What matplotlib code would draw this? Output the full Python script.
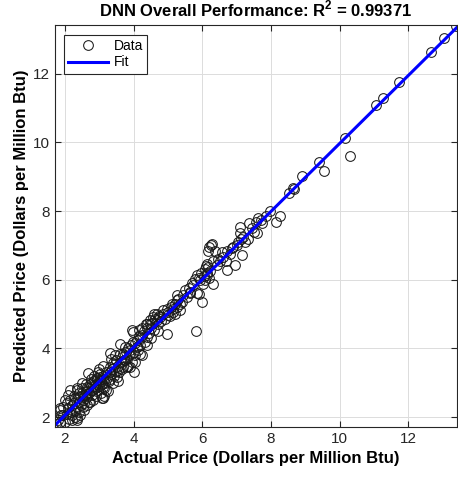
import numpy as np
import matplotlib
matplotlib.use("Agg")
import matplotlib.pyplot as plt

plt.rcParams['font.family'] = ['Liberation Sans', 'DejaVu Sans']
plt.rcParams['mathtext.fontset'] = 'custom'
plt.rcParams['mathtext.rm'] = 'Liberation Sans'
plt.rcParams['mathtext.bf'] = 'Liberation Sans:bold'

# actual vs predicted price
actual = [
    13.40, 13.03, 12.67, 11.74, 11.25, 11.07, 10.17, 10.29, 9.41, 9.53,
    8.89, 8.68, 8.53, 8.63, 7.98, 8.25, 8.15, 7.63, 7.57, 7.73,
    7.59, 7.37, 7.10, 7.10, 7.13, 7.34, 7.05, 7.15, 6.86, 6.73,
    6.96, 6.73, 6.57, 6.52, 6.42, 6.28, 6.18, 6.37, 6.13, 6.18,
    6.08, 6.23, 6.13, 6.08, 6.32, 5.84, 5.79, 5.94, 5.74, 6.03,
    5.84, 6.00, 5.50, 5.64, 5.26, 5.26, 5.35, 5.11, 5.16, 4.96,
    5.21, 5.35, 4.87, 4.67, 4.57, 4.48, 4.38, 4.77, 5.01, 3.94,
    4.24, 5.82, 4.96, 5.89, 6.25, 6.20,
    1.75, 1.80, 1.85, 1.95, 2.34, 1.85, 2.00, 2.15, 2.34, 2.39,
    2.53, 2.73, 2.63, 2.68, 2.83, 2.92, 3.02, 3.12, 3.07, 2.83,
    3.31, 3.10, 3.41, 3.51, 3.60, 3.55, 3.75, 3.80, 3.90, 4.04,
    4.02, 4.09, 3.90, 3.60, 3.99, 4.19, 4.38, 4.48, 4.67, 4.38,
    4.24, 3.31, 3.02, 2.34, 1.85,
    2.05, 2.10, 2.12, 2.18, 2.20, 2.22, 2.25, 2.28, 2.30, 2.35,
    2.40, 2.42, 2.45, 2.48, 2.50, 2.52, 2.55, 2.58, 2.60, 2.62,
    2.65, 2.68, 2.70, 2.72, 2.75, 2.78, 2.80, 2.82, 2.85, 2.88,
    2.90, 2.92, 2.95, 2.97, 3.00, 3.02, 3.05, 3.08, 3.10, 3.12,
    3.15, 3.18, 3.20, 3.22, 3.25, 3.28, 3.30, 3.35, 3.38, 3.42,
    3.45, 3.48, 3.50, 3.55, 3.58, 3.62, 3.65, 3.68, 3.70, 3.72,
    3.78, 3.82, 3.85, 3.88, 3.92, 3.95, 3.98, 4.00, 4.05, 4.10,
    4.12, 4.15, 4.20, 4.25, 4.30, 4.32, 4.40, 4.45, 4.50, 4.55,
    4.60, 4.62, 4.70, 4.75, 4.80, 4.85, 4.90, 5.00, 5.05, 5.10,
    5.15, 5.20, 5.25, 5.30, 5.40, 5.45, 5.55, 5.60, 5.65, 5.70,
    5.90, 5.95, 6.05, 6.15, 6.10, 6.20, 6.30, 6.45, 6.60, 6.70,
    6.80, 6.90, 7.00, 7.20, 7.25, 7.45, 7.50, 7.70, 7.85,
    2.30, 2.45, 2.55, 2.65, 2.60, 2.75, 2.85, 2.95, 3.05, 3.15,
    2.90, 2.70, 2.50, 2.40, 2.25, 2.20, 2.00, 1.90, 1.95, 2.05,
    2.10, 2.15, 2.35, 2.50, 3.00, 3.10, 3.20, 3.30, 3.40, 3.45,
    3.35, 3.55, 3.65, 3.75, 3.85, 4.05, 4.15, 4.20, 4.35, 4.50,
    4.60, 4.70,
]
predicted = [
    13.40, 13.04, 12.65, 11.75, 11.29, 11.10, 10.12, 9.61, 9.44, 9.18,
    9.02, 8.65, 8.53, 8.67, 8.00, 7.85, 7.68, 7.80, 7.68, 7.65,
    7.36, 7.65, 7.55, 7.36, 7.19, 7.19, 7.10, 6.71, 6.92, 6.85,
    6.42, 6.27, 6.80, 6.56, 6.42, 7.03, 6.83, 6.83, 6.47, 6.37,
    6.32, 6.25, 6.13, 5.98, 5.88, 6.13, 6.03, 5.98, 5.84, 5.88,
    5.60, 5.36, 5.69, 5.60, 5.55, 5.40, 5.30, 5.30, 5.16, 5.16,
    5.01, 5.11, 5.11, 5.01, 4.92, 4.82, 4.72, 4.92, 4.97, 4.53,
    4.58, 4.50, 4.43, 5.58, 7.00, 6.95,
    1.80, 1.91, 1.85, 2.06, 1.91, 2.20, 2.49, 2.49, 2.78, 2.54,
    2.30, 2.44, 2.88, 3.27, 2.78, 3.08, 3.17, 2.88, 2.54, 2.49,
    3.32, 2.55, 3.56, 3.17, 3.85, 3.37, 3.66, 3.46, 3.95, 3.80,
    3.32, 4.04, 3.46, 4.14, 4.48, 4.29, 4.33, 4.72, 4.82, 4.09,
    3.80, 3.88, 3.08, 1.96, 2.25,
    2.10, 2.25, 1.95, 2.15, 2.35, 2.05, 2.40, 2.20, 2.55, 2.30,
    2.15, 2.45, 2.60, 2.35, 2.70, 2.50, 2.40, 2.65, 2.55, 2.75,
    2.60, 2.85, 2.70, 2.95, 2.80, 2.65, 3.00, 2.90, 3.05, 2.85,
    2.95, 3.15, 2.80, 3.00, 2.90, 3.25, 3.05, 2.95, 3.10, 3.20,
    2.85, 3.00, 3.30, 3.15, 2.75, 3.05, 3.45, 3.25, 3.40, 3.20,
    3.55, 3.35, 3.65, 3.50, 3.30, 3.60, 3.75, 3.45, 3.85, 3.65,
    3.90, 3.70, 4.00, 3.80, 4.10, 3.60, 4.20, 3.90, 4.15, 4.25,
    3.95, 4.35, 4.10, 4.40, 4.50, 4.20, 4.60, 4.45, 4.60, 4.75,
    4.55, 4.85, 4.70, 4.95, 4.80, 5.00, 4.85, 5.05, 4.95, 5.20,
    5.05, 5.30, 5.20, 5.45, 5.35, 5.55, 5.50, 5.75, 5.65, 5.90,
    6.05, 6.20, 6.10, 6.20, 6.40, 6.05, 6.55, 6.60, 6.65, 6.55,
    6.75, 6.95, 7.00, 7.25, 7.10, 7.50, 7.40, 7.75, 7.85,
    2.00, 2.05, 2.20, 2.35, 2.95, 3.10, 3.20, 3.30, 2.70, 2.60,
    2.60, 2.45, 2.85, 2.70, 2.60, 1.90, 1.85, 2.05, 2.30, 2.40,
    2.65, 2.80, 2.85, 3.00, 3.40, 3.50, 2.80, 3.10, 3.00, 3.80,
    3.70, 3.05, 3.40, 4.05, 3.50, 3.60, 4.55, 3.85, 4.70, 4.30,
    5.00, 4.50,
]

r_squared = 0.99371
lims = [1.71, 13.42]
tick_vals = [2, 4, 6, 8, 10, 12]

x = np.array(actual)
y = np.array(predicted)
slope, intercept = np.polyfit(x, y, 1)
fit_x = np.array(lims)
fit_y = slope * fit_x + intercept

fig = plt.figure(figsize=(4.58, 4.79), dpi=100)
ax = fig.add_axes([0.120, 0.1086, 0.878, 0.839])

ax.plot(x, y, 'o', mfc='none', mec='#1a1a1a', ms=7, mew=0.75, label='Data')
ax.plot(fit_x, fit_y, '-', color='#0000ff', lw=2.2, label='Fit')

ax.set_xlim(lims)
ax.set_ylim(lims)
ax.set_xticks(tick_vals)
ax.set_yticks(tick_vals)
ax.grid(True, color='#dcdcdc', lw=0.7)
ax.set_axisbelow(True)
ax.tick_params(direction='in', length=4, labelsize=11, colors='#262626',
               top=True, right=True, labeltop=False, labelright=False)
for sp in ax.spines.values():
    sp.set_color('#262626')
    sp.set_linewidth(0.8)

ax.set_xlabel('Actual Price (Dollars per Million Btu)', fontsize=12, fontweight='bold', labelpad=4)
ax.set_ylabel('Predicted Price (Dollars per Million Btu)', fontsize=12, fontweight='bold', labelpad=3)
ax.set_title('DNN Overall Performance: R$^{\\mathbf{2}}$ = %.5f' % r_squared,
             fontsize=12, fontweight='bold', pad=6)

leg = ax.legend(loc='upper left', bbox_to_anchor=(0.022, 0.975), borderaxespad=0,
                fontsize=10, fancybox=False, edgecolor='#262626', framealpha=1,
                handlelength=2.9, borderpad=0.3, labelspacing=0.15, handletextpad=0.4)
leg.get_frame().set_linewidth(0.8)

fig.savefig('out.png', dpi=100)
